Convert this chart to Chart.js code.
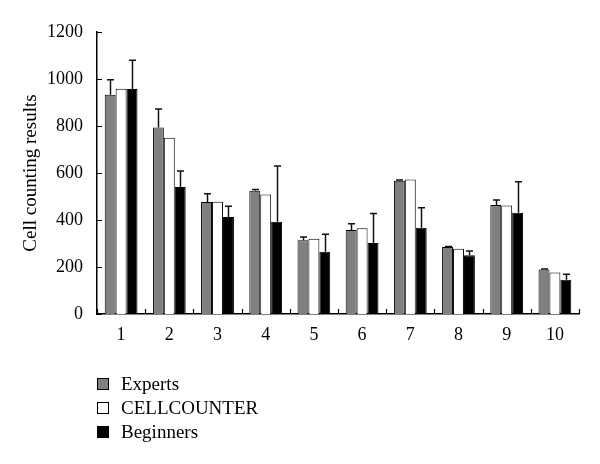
<!DOCTYPE html>
<html>
<head>
<meta charset="utf-8">
<script src="https://cdn.jsdelivr.net/npm/chart.js@4/dist/chart.umd.min.js"></script>
<style>
  html, body { margin: 0; padding: 0; background: #fff; }
  #wrap { width: 600px; height: 464px; }
</style>
</head>
<body>
<div id="wrap"><canvas id="myChart" width="600" height="464"></canvas></div>
<script>
// samples 1..10
var categories = ["1", "2", "3", "4", "5", "6", "7", "8", "9", "10"];

// cell counts
var experts = [933, 794, 477, 525, 314, 357, 567, 285, 464, 189];
var expertsErr = [64, 78, 35, 5, 14, 27, 3, 2, 21, 2];
var cellcounter = [959, 750, 478, 509, 320, 365, 572, 278, 462, 177];
var beginners = [957, 540, 413, 393, 265, 302, 367, 250, 431, 146];
var beginnersErr = [123, 68, 45, 237, 74, 126, 85, 18, 132, 23];

var yTicks = [0, 200, 400, 600, 800, 1000, 1200];

var serif = "'Liberation Serif', 'DejaVu Serif', serif";

// upward error bars with a cap
var errorBars = {
  id: "errorBars",
  afterDatasetsDraw: function (chart) {
    var ctx = chart.ctx;
    var yScale = chart.scales.y;
    chart.data.datasets.forEach(function (ds, i) {
      if (!ds.errors) return;
      var meta = chart.getDatasetMeta(i);
      meta.data.forEach(function (bar, j) {
        var top = yScale.getPixelForValue(ds.data[j] + ds.errors[j]);
        var x = Math.round(bar.x) + 0.5;
        ctx.save();
        ctx.strokeStyle = "#111";
        ctx.lineWidth = 1.5;
        ctx.beginPath();
        ctx.moveTo(x, bar.y);
        ctx.lineTo(x, top);
        ctx.moveTo(x - 3.5, top);
        ctx.lineTo(x + 3.5, top);
        ctx.stroke();
        ctx.restore();
      });
    });
  }
};

// short tick marks pointing into the plot
var innerTicks = {
  id: "innerTicks",
  afterDraw: function (chart) {
    var ctx = chart.ctx;
    var xs = chart.scales.x, ys = chart.scales.y;
    var area = chart.chartArea;
    ctx.save();
    ctx.strokeStyle = "#000";
    ctx.lineWidth = 1.2;
    ctx.beginPath();
    ys.ticks.forEach(function (t) {
      var py = Math.round(ys.getPixelForValue(t.value)) + 0.5;
      ctx.moveTo(area.left, py);
      ctx.lineTo(area.left + 5, py);
    });
    for (var i = 0; i <= categories.length; i++) {
      var px = Math.round(xs.getPixelForValue(i - 0.5)) + 0.5;
      ctx.moveTo(px, area.bottom);
      ctx.lineTo(px, area.bottom - 5);
    }
    ctx.stroke();
    ctx.restore();
  }
};

// stacked legend under the plot
var stackLegend = {
  id: "stackLegend",
  afterDraw: function (chart) {
    var ctx = chart.ctx;
    var y = 384, step = 24;
    ctx.save();
    ctx.font = "19px " + serif;
    ctx.textBaseline = "middle";
    chart.data.datasets.forEach(function (ds, i) {
      var cy = y + i * step;
      ctx.fillStyle = ds.backgroundColor;
      ctx.fillRect(97.5, cy - 5.5, 11, 11);
      ctx.strokeStyle = "#000";
      ctx.lineWidth = 1;
      ctx.strokeRect(97.5, cy - 5.5, 11, 11);
      ctx.fillStyle = "#000";
      ctx.fillText(ds.label, 121, cy + 1);
    });
    ctx.restore();
  }
};

new Chart("myChart", {
  type: "bar",
  data: {
    labels: categories,
    datasets: [
      { label: "Experts", data: experts, errors: expertsErr, backgroundColor: "#808080" },
      { label: "CELLCOUNTER", data: cellcounter, backgroundColor: "#ffffff" },
      { label: "Beginners", data: beginners, errors: beginnersErr, backgroundColor: "#000000" }
    ]
  },
  options: {
    responsive: false,
    animation: false,
    layout: { padding: { left: 0, top: 32, right: 21, bottom: 120 } },
    datasets: {
      bar: {
        borderColor: "#000",
        borderWidth: 1,
        categoryPercentage: 0.68,
        barPercentage: 1
      }
    },
    plugins: {
      legend: { display: false },
      tooltip: { enabled: false }
    },
    scales: {
      x: {
        afterFit: function (scale) { scale.height = 30; },
        grid: { display: false, drawTicks: false },
        border: { color: "#000", width: 1.5 },
        ticks: {
          color: "#000",
          padding: 10,
          font: { family: serif, size: 18 }
        }
      },
      y: {
        min: 0,
        max: 1200,
        afterFit: function (scale) { scale.width = 97; },
        afterBuildTicks: function (scale) {
          scale.ticks = yTicks.map(function (v) { return { value: v }; });
        },
        grid: { display: false, drawTicks: false },
        border: { color: "#000", width: 1.5 },
        title: {
          display: true,
          text: "Cell counting results",
          color: "#000",
          padding: { top: 20, bottom: 0 },
          font: { family: serif, size: 19 }
        },
        ticks: {
          color: "#000",
          padding: 14,
          font: { family: serif, size: 18 },
          callback: function (v) { return String(v); }
        }
      }
    }
  },
  plugins: [errorBars, innerTicks, stackLegend]
});
</script>
</body>
</html>
